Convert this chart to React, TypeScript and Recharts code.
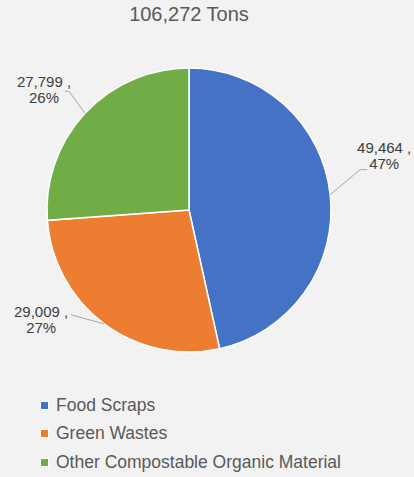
import { PieChart, Pie, Cell, Legend } from 'recharts';

const categories = ['Food Scraps', 'Green Wastes', 'Other Compostable Organic Material'];
const tons = [49464, 29009, 27799];
const percents = ['47%', '27%', '26%'];
const colors = ['#4472C4', '#ED7D31', '#70AD47'];
const titleText = '106,272 Tons';

// leader line bend relative to the slice edge, plus where the two text lines sit
const labelBends = [
  { dx: 30, dy: -25, tail: 7, textDx: 17, textDy: -17 },
  { dx: -33, dy: -9, tail: 0, textDx: -30, textDy: 2 },
  { dx: -16, dy: -22, tail: -4, textDx: -21, textDy: -4 },
];

const data = categories.map((name, i) => ({ name, value: tons[i], pct: percents[i] }));

const FONT = '"Liberation Sans", Arial, sans-serif';
const RAD = Math.PI / 180;

function renderLabel(props: any) {
  const { cx, cy, midAngle, outerRadius, index, value, payload } = props;
  const ex = cx + outerRadius * Math.cos(-midAngle * RAD);
  const ey = cy + outerRadius * Math.sin(-midAngle * RAD);
  const b = labelBends[index];
  const bx = ex + b.dx;
  const by = ey + b.dy;
  const tx = bx + b.tail;
  const textX = tx + b.textDx;
  const textY = by + b.textDy;
  return (
    <g>
      <polyline
        points={`${ex},${ey} ${bx},${by} ${tx},${by}`}
        fill="none"
        stroke="#A6A6A6"
        strokeWidth={1}
      />
      <text x={textX} y={textY} textAnchor="middle" fill="#404040" fontSize={15} fontFamily={FONT}>
        <tspan x={textX} dy={0}>{value.toLocaleString('en-US')} ,</tspan>
        <tspan x={textX} dy={16}>{payload.pct}</tspan>
      </text>
    </g>
  );
}

function LegendBox() {
  return (
    <div style={{ fontFamily: FONT, fontSize: 17.5, color: '#595959' }}>
      {categories.map((c, i) => (
        <div key={c} style={{ display: 'flex', alignItems: 'center', height: 28.5 }}>
          <span
            style={{
              width: 7,
              height: 7,
              background: colors[i],
              border: '1px solid #fff',
              marginRight: 7,
            }}
          />
          <span>{c}</span>
        </div>
      ))}
    </div>
  );
}

export default function App() {
  return (
    <div
      style={{
        position: 'fixed',
        top: 0,
        left: 0,
        width: 414,
        height: 477,
        background: '#F2F2F2',
      }}
    >
      <div
        style={{
          position: 'absolute',
          top: 3,
          left: 0,
          width: 378,
          textAlign: 'center',
          fontFamily: FONT,
          fontSize: 20,
          color: '#595959',
        }}
      >
        {titleText}
      </div>
      <PieChart width={414} height={477} margin={{ top: 0, right: 0, bottom: 0, left: 0 }}>
        <Pie
          data={data}
          dataKey="value"
          nameKey="name"
          cx={189}
          cy={210}
          outerRadius={142}
          startAngle={90}
          endAngle={-270}
          stroke="#FFFFFF"
          strokeWidth={1.5}
          label={renderLabel}
          labelLine={false}
          isAnimationActive={false}
        >
          {data.map((d, i) => (
            <Cell key={d.name} fill={colors[i]} />
          ))}
        </Pie>
        <Legend
          content={() => <LegendBox />}
          wrapperStyle={{ position: 'absolute', top: 391, left: 40, width: 370 }}
        />
      </PieChart>
    </div>
  );
}
